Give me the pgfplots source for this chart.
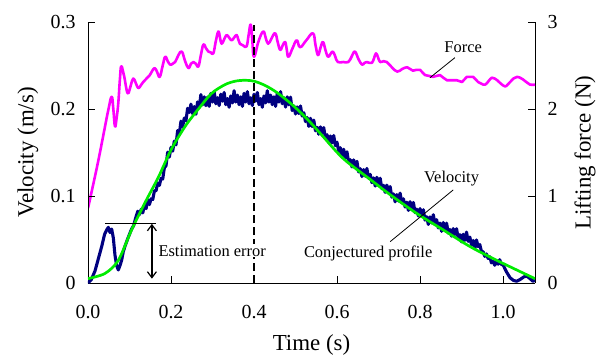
\documentclass[border=0pt]{standalone}
\usepackage{fontspec}
\setmainfont{Liberation Serif}
\usepackage{pgfplots}
\pgfplotsset{compat=1.18}
\usetikzlibrary{arrows.meta}
\definecolor{vblue}{RGB}{0,0,128}
\definecolor{fmag}{RGB}{255,0,255}
\definecolor{cgreen}{RGB}{0,235,0}
\tikzset{annot/.style={font=\fontsize{16.5}{19}\selectfont}}
\begin{document}
\begin{tikzpicture}
\pgfplotsset{
  common/.style={
    width=447bp, height=261bp, scale only axis,
    xmin=0, xmax=1.077,
    tick align=inside, major tick length=7bp,
    axis line style={line width=0.9bp,-},
    tick style={line width=0.9bp,black},
    tick label style={font=\fontsize{20}{22}\selectfont},
    /pgf/number format/assume math mode=true,
  },
}
% ---------- Force axis (right) ----------
\begin{axis}[common,
  axis x line=none, axis y line*=right,
  ymin=0, ymax=3,
  ytick={0,1,2,3}, yticklabels={0,1,2,3},
  yticklabel style={xshift=9bp},
  ylabel={Lifting force (N)},
  every axis y label/.style={at={(axis description cs:1.112,0.5)},rotate=90,anchor=center,font=\fontsize{23}{26}\selectfont},
]
\addplot[fmag, line width=2.6bp, smooth, tension=0.75, line join=round] coordinates {
(0,0.86) (0.012,1.12) (0.025,1.41) (0.037,1.70) (0.049,1.99) (0.057,2.14) (0.061,2.00) (0.065,1.80)
(0.069,1.90) (0.073,2.07) (0.077,2.35) (0.080,2.49) (0.085,2.42) (0.089,2.33) (0.093,2.22) (0.097,2.18)
(0.103,2.27) (0.109,2.35) (0.115,2.30) (0.121,2.24) (0.127,2.27) (0.133,2.31) (0.141,2.35) (0.149,2.39)
(0.155,2.44) (0.161,2.47) (0.167,2.42) (0.173,2.37) (0.180,2.50) (0.186,2.60) (0.192,2.55) (0.198,2.51)
(0.204,2.52) (0.210,2.54) (0.218,2.62) (0.226,2.66) (0.234,2.55) (0.242,2.47) (0.248,2.52) (0.254,2.54)
(0.260,2.52) (0.266,2.49) (0.272,2.62) (0.278,2.74) (0.284,2.70) (0.290,2.66) (0.296,2.65) (0.302,2.64)
(0.308,2.78) (0.314,2.89) (0.318,2.82) (0.322,2.75) (0.328,2.80) (0.334,2.85) (0.340,2.82) (0.346,2.79)
(0.352,2.82) (0.358,2.85) (0.362,2.80) (0.366,2.75) (0.374,2.73) (0.382,2.72) (0.387,2.85) (0.392,2.97)
(0.396,2.78) (0.400,2.60) (0.411,2.78) (0.422,2.89) (0.428,2.82) (0.434,2.75) (0.442,2.81) (0.451,2.87)
(0.457,2.77) (0.463,2.68) (0.469,2.73) (0.475,2.77) (0.479,2.68) (0.483,2.60) (0.493,2.70) (0.503,2.79)
(0.511,2.71) (0.526,2.79) (0.542,2.87) (0.548,2.74) (0.554,2.62) (0.560,2.70) (0.566,2.77) (0.572,2.68)
(0.578,2.60) (0.584,2.63) (0.590,2.66) (0.596,2.60) (0.602,2.54) (0.615,2.54) (0.627,2.54) (0.635,2.60)
(0.643,2.66) (0.651,2.58) (0.660,2.51) (0.666,2.53) (0.672,2.54) (0.678,2.53) (0.684,2.53) (0.689,2.58)
(0.694,2.64) (0.699,2.59) (0.704,2.54) (0.712,2.55) (0.720,2.54) (0.732,2.48) (0.745,2.43) (0.757,2.46)
(0.769,2.48) (0.776,2.46) (0.783,2.44) (0.791,2.45) (0.800,2.45) (0.806,2.42) (0.812,2.39) (0.822,2.38)
(0.831,2.37) (0.840,2.38) (0.848,2.39) (0.856,2.36) (0.865,2.33) (0.877,2.33) (0.889,2.33) (0.895,2.32)
(0.901,2.31) (0.907,2.34) (0.913,2.37) (0.920,2.37) (0.928,2.37) (0.934,2.34) (0.940,2.31) (0.948,2.29)
(0.957,2.28) (0.965,2.32) (0.973,2.36) (0.980,2.35) (0.986,2.33) (0.995,2.29) (1.005,2.26) (1.011,2.28)
(1.017,2.31) (1.025,2.35) (1.034,2.37) (1.041,2.36) (1.048,2.34) (1.056,2.31) (1.065,2.28) (1.077,2.28)
};
\end{axis}
% ---------- Velocity axis (left) ----------
\begin{axis}[common,
  axis x line*=bottom, axis y line*=left,
  ymin=0, ymax=0.3,
  ytick={0,0.1,0.2,0.3}, yticklabels={0,0.1,0.2,0.3},
  yticklabel style={xshift=-9bp},
  xtick={0,0.2,0.4,0.6,0.8,1.0}, xticklabels={0.0,0.2,0.4,0.6,0.8,1.0},
  xticklabel style={yshift=-19bp},
  xlabel={Time (s)}, ylabel={Velocity (m/s)},
  every axis x label/.style={at={(axis description cs:0.5,-0.2375)},anchor=center,font=\fontsize{23}{26}\selectfont},
  every axis y label/.style={at={(axis description cs:-0.1342,0.5)},rotate=90,anchor=center,font=\fontsize{23}{26}\selectfont},
]
\addplot[vblue, line width=3.1bp, line join=round] coordinates {
(0.000,0.000) (0.008,0.004) (0.017,0.014) (0.025,0.028) (0.033,0.042) (0.040,0.056) (0.045,0.061) (0.049,0.064)
(0.053,0.058) (0.057,0.062) (0.061,0.052) (0.065,0.032) (0.069,0.020) (0.073,0.015) (0.077,0.020) (0.081,0.026)
(0.085,0.036) (0.089,0.042) (0.095,0.050) (0.100,0.056) (0.105,0.062) (0.110,0.066) (0.115,0.075)
(0.120,0.0825) (0.124,0.0786) (0.128,0.0847) (0.132,0.0806) (0.136,0.0893) (0.140,0.0855) (0.144,0.0957) (0.148,0.0901)
(0.152,0.0968) (0.156,0.0959) (0.160,0.1060) (0.164,0.1060) (0.168,0.1150) (0.172,0.1122) (0.176,0.1201) (0.180,0.1195)
(0.184,0.1324) (0.188,0.1348) (0.192,0.1504) (0.196,0.1448) (0.200,0.1560) (0.204,0.1516) (0.208,0.1632) (0.212,0.1588)
(0.216,0.1752) (0.220,0.1716) (0.224,0.1860) (0.228,0.1796) (0.232,0.1896) (0.236,0.1864) (0.240,0.2008) (0.244,0.1960)
(0.248,0.2056) (0.252,0.1946) (0.256,0.2028) (0.260,0.1940) (0.264,0.2082) (0.268,0.2014) (0.272,0.2166) (0.276,0.2048)
(0.280,0.2140) (0.284,0.2038) (0.288,0.2136) (0.292,0.2030) (0.296,0.2180) (0.300,0.2080) (0.304,0.2200) (0.308,0.2060)
(0.312,0.2130) (0.316,0.2040) (0.320,0.2170) (0.324,0.2090) (0.328,0.2190) (0.332,0.2050) (0.336,0.2120) (0.340,0.2020)
(0.344,0.2150) (0.348,0.2070) (0.352,0.2210) (0.356,0.2080) (0.360,0.2160) (0.364,0.2050) (0.368,0.2140) (0.372,0.2030)
(0.376,0.2180) (0.380,0.2080) (0.384,0.2200) (0.388,0.2060) (0.392,0.2130) (0.396,0.2040) (0.400,0.2170) (0.404,0.2090)
(0.408,0.2190) (0.412,0.2050) (0.416,0.2120) (0.420,0.2020) (0.424,0.2150) (0.428,0.2070) (0.432,0.2210) (0.436,0.2080)
(0.440,0.2160) (0.444,0.2050) (0.448,0.2140) (0.452,0.2030) (0.456,0.2180) (0.460,0.2080) (0.464,0.2200) (0.468,0.2060)
(0.472,0.2130) (0.476,0.2022) (0.480,0.2140) (0.484,0.2048) (0.488,0.2136) (0.492,0.1982) (0.496,0.2036) (0.500,0.1943)
(0.504,0.2024) (0.508,0.1948) (0.512,0.2035) (0.516,0.1918) (0.520,0.1958) (0.524,0.1855) (0.528,0.1903) (0.532,0.1800)
(0.536,0.1893) (0.540,0.1798) (0.544,0.1872) (0.548,0.1750) (0.552,0.1789) (0.556,0.1710) (0.560,0.1795) (0.564,0.1723)
(0.568,0.1786) (0.572,0.1667) (0.576,0.1704) (0.580,0.1613) (0.584,0.1690) (0.588,0.1610) (0.592,0.1695) (0.596,0.1578)
(0.600,0.1618) (0.604,0.1511) (0.608,0.1555) (0.612,0.1448) (0.616,0.1537) (0.620,0.1438) (0.624,0.1508) (0.628,0.1383)
(0.632,0.1417) (0.636,0.1334) (0.640,0.1415) (0.644,0.1339) (0.648,0.1398) (0.652,0.1277) (0.656,0.1314) (0.660,0.1223)
(0.664,0.1304) (0.668,0.1228) (0.672,0.1317) (0.676,0.1204) (0.680,0.1248) (0.684,0.1153) (0.688,0.1209) (0.692,0.1114)
(0.696,0.1215) (0.700,0.1128) (0.704,0.1204) (0.708,0.1085) (0.712,0.1123) (0.716,0.1042) (0.720,0.1125) (0.724,0.1049)
(0.728,0.1108) (0.732,0.0987) (0.736,0.1024) (0.740,0.0933) (0.744,0.1016) (0.748,0.0942) (0.752,0.1033) (0.756,0.0922)
(0.760,0.0968) (0.764,0.0873) (0.768,0.0929) (0.772,0.0834) (0.776,0.0935) (0.780,0.0848) (0.784,0.0926) (0.788,0.0809)
(0.792,0.0849) (0.796,0.0770) (0.800,0.0855) (0.804,0.0781) (0.808,0.0842) (0.812,0.0723) (0.816,0.0762) (0.820,0.0673)
(0.824,0.0760) (0.828,0.0690) (0.832,0.0785) (0.836,0.0678) (0.840,0.0728) (0.844,0.0633) (0.848,0.0689) (0.852,0.0594)
(0.856,0.0695) (0.860,0.0608) (0.864,0.0688) (0.868,0.0573) (0.872,0.0615) (0.876,0.0538) (0.880,0.0625) (0.884,0.0557)
(0.888,0.0624) (0.892,0.0511) (0.896,0.0556) (0.900,0.0473) (0.904,0.0560) (0.908,0.0490) (0.912,0.0585) (0.916,0.0478)
(0.920,0.0528) (0.924,0.0433) (0.928,0.0489) (0.932,0.0394) (0.936,0.0495) (0.940,0.0418) (0.944,0.0442) (0.948,0.0362)
(0.952,0.0360) (0.956,0.0306) (0.960,0.0334) (0.964,0.0282) (0.968,0.0302) (0.972,0.0232) (0.976,0.0252) (0.980,0.0204)
(0.984,0.0252) (0.988,0.0216) (0.992,0.0268) (0.996,0.0212) (1.000,0.021) (1.008,0.013) (1.017,0.006) (1.025,0.003)
(1.033,0.002) (1.041,0.004) (1.050,0.007) (1.057,0.008) (1.065,0.005) (1.072,0.002) (1.077,0.003)
};
\addplot[cgreen, line width=2.7bp, smooth, tension=0.5] coordinates {
(0,0.005) (0.041,0.011) (0.073,0.026) (0.105,0.061) (0.137,0.092) (0.17,0.122) (0.2,0.153) (0.234,0.18)
(0.266,0.2) (0.298,0.218) (0.33,0.228) (0.355,0.232) (0.378,0.233) (0.4,0.232) (0.427,0.227) (0.455,0.219)
(0.487,0.207) (0.51,0.197) (0.535,0.185) (0.567,0.168) (0.615,0.143) (0.68,0.119) (0.728,0.1015) (0.792,0.08)
(0.856,0.061) (0.92,0.042) (0.985,0.026) (1.077,0.005)
};
\draw[black, line width=1.5bp, dash pattern=on 8bp off 4bp] (axis cs:0.4,0) -- (axis cs:0.4,0.297);
\draw[black, line width=1.2bp] (axis cs:0.041,0.068) -- (axis cs:0.164,0.068);
\draw[black, line width=1.2bp, {Straight Barb[length=6bp,width=9bp]}-{Straight Barb[length=6bp,width=9bp]}] (axis cs:0.154,0.068) -- (axis cs:0.154,0.005);
\node[annot, anchor=west, fill=white, inner sep=1bp] at (axis cs:0.167,0.037) {Estimation error};
\draw[black, line width=0.8bp] (axis cs:0.884,0.259) -- (axis cs:0.824,0.236);
\node[annot] at (axis cs:0.904,0.271) {Force};
\draw[black, line width=0.8bp] (axis cs:0.88,0.107) -- (axis cs:0.728,0.0475);
\node[annot] at (axis cs:0.876,0.12) {Velocity};
\node[annot] at (axis cs:0.675,0.034) {Conjectured profile};
\end{axis}
\pgfresetboundingbox
\path[use as bounding box] (-88bp,-75bp) rectangle (514bp,283bp);
\end{tikzpicture}
\end{document}
